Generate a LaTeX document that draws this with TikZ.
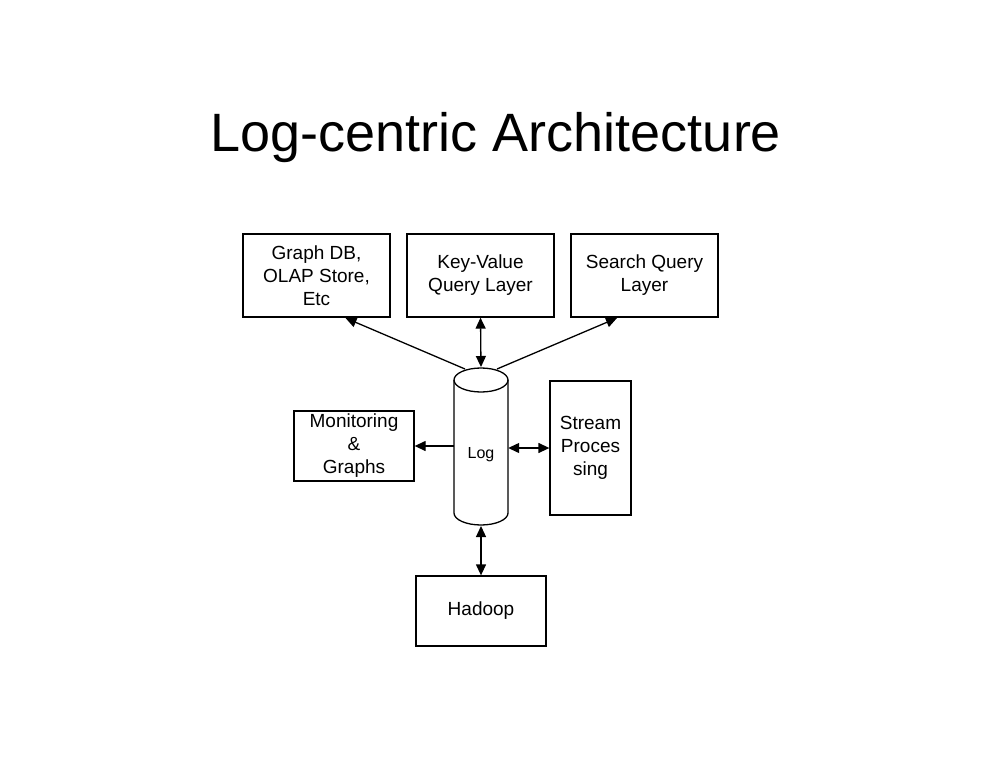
\documentclass[tikz,border=0pt]{standalone}
\usepackage{fontspec}
\setmainfont{Liberation Sans}
\usetikzlibrary{arrows.meta}
\begin{document}
\begin{tikzpicture}[x=1pt,y=-1pt,
  box/.style={draw,line width=1.3pt,inner sep=0pt,align=center,font=\fontsize{19}{23}\selectfont},
  conn/.style={line width=1.3pt,-{Triangle[length=11pt,width=10pt]}},
  dconn/.style={line width=1.3pt,{Triangle[length=11pt,width=10pt]}-{Triangle[length=11pt,width=10pt]}}]
\useasboundingbox (0,0) rectangle (990,765);
\node[font=\fontsize{54}{60}\selectfont] (title) at (496,138) {Log-centric Architecture};
\node[box,minimum width=147pt,minimum height=83pt] (graph) at (316.5,275.5) {Graph DB,\\OLAP Store,\\Etc};
\node[box,minimum width=147pt,minimum height=83pt] (kv) at (480.5,275.5) {Key-Value\\Query Layer};
\node[box,minimum width=147pt,minimum height=83pt] (search) at (644.5,275.5) {Search Query\\Layer};
\node[box,minimum width=120pt,minimum height=70pt] (mon) at (354,446) {Monitoring\\\&\\Graphs};
\node[box,minimum width=81pt,minimum height=134pt] (stream) at (590.5,448) {Stream\\Proces\\sing};
\node[box,minimum width=130pt,minimum height=70pt] (hadoop) at (481,611) {Hadoop};
% cylinder
\draw[line width=1.3pt] (454,380) -- (454,513) arc[start angle=180,end angle=0,x radius=27,y radius=12] -- (508,380);
\draw[line width=1.3pt] (481,380) ellipse[x radius=27,y radius=12];
\node[font=\fontsize{16}{18}\selectfont,minimum width=54pt,minimum height=100pt] (log) at (481,455) {Log};
\coordinate (ltop) at (481,367);
\coordinate (ltl) at (465,369);
\coordinate (ltr) at (497,369);
\coordinate (lbot) at (481,526);
\draw[conn] (ltl) -- (345.5,318);
\draw[dconn] (ltop) -- (kv.south);
\draw[conn] (ltr) -- (617,318);
\draw[conn] (log.west |- mon.east) -- (mon.east);
\draw[dconn] (log.east |- stream.west) -- (stream.west);
\draw[dconn] (lbot) -- (hadoop.north);
\end{tikzpicture}
\end{document}
